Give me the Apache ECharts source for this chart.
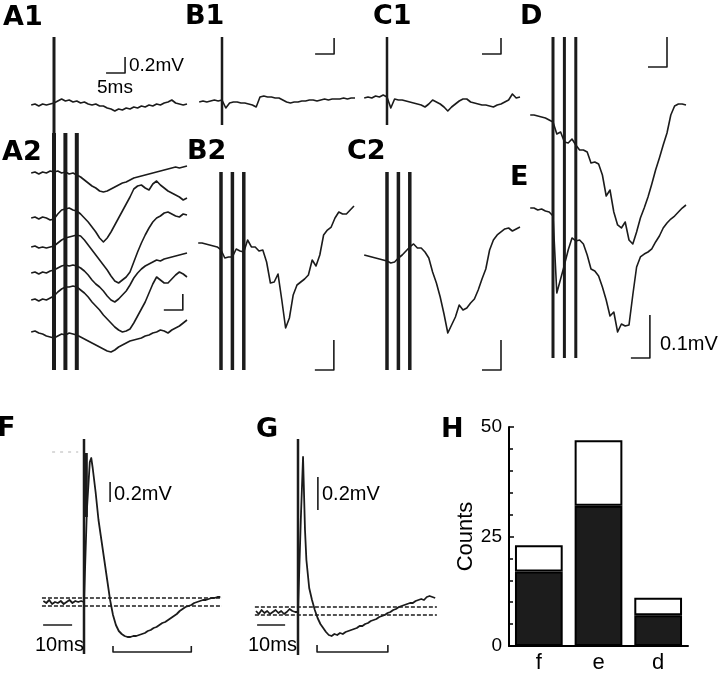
<!DOCTYPE html>
<html><head><meta charset="utf-8">
<script src="https://cdn.jsdelivr.net/npm/echarts@6/dist/echarts.min.js"></script>
<style>html,body{margin:0;padding:0;background:#fff}#c{width:720px;height:676px}</style>
</head><body><div id="c"></div>
<script>
// ---------------- DATA (time in ms, voltage in µV) ----------------
const tTop = [-6,-5,-4,-3,-2,-1,0,1,2,3,4,5,6,7,8,9,10,11,12,13,14,15,16,17,18,19,20,21,22,23,24,25,26,27,28,29,30,31,32,33,34,35];
const stimSingle = [0];
const stimTrain = [0,3,6];
const traceA1 = [-12.5,0,-25,0,-12.5,0,12.5,37.5,62.5,37.5,50,25,37.5,12.5,25,0,-12.5,0,-25,-25,-50,-62.5,-87.5,-62.5,-75,-50,-62.5,-37.5,-50,-25,-37.5,-12.5,-25,0,-12.5,12.5,25,50,12.5,0,-12.5,0];
const traceB1 = [-25,-12.5,-25,-12.5,0,-12.5,0,-100,-37.5,-25,-25,-37.5,-37.5,-50,-62.5,-87.5,37.5,50,37.5,37.5,25,25,0,-25,-37.5,-25,-25,-12.5,-12.5,0,0,-12.5,0,12.5,0,12.5,12.5,12.5,25,12.5,25,25];
const traceC1 = [0,12.5,0,25,12.5,37.5,12.5,-125,-12.5,-25,-25,-37.5,-50,-62.5,-75,-87.5,-112.5,-75,-25,-50,-75,-112.5,-162.5,-112.5,-75,-37.5,-12.5,-12.5,-50,-62.5,-75,-87.5,-87.5,-100,-112.5,-87.5,-75,-50,-25,50,0,12.5];
const traceA2s1 = [0,12.5,-12.5,12.5,0,25,12.5,25,0,12.5,-12.5,0,-25,-50,-87.5,-125,-162.5,-187.5,-225,-237.5,-225,-200,-175,-150,-125,-112.5,-87.5,-62.5,-50,-37.5,-25,-12.5,0,12.5,25,37.5,50,62.5,75,62.5,75,87.5];
const traceA2s2 = [0,12.5,-12.5,12.5,0,-25,-12.5,50,100,112.5,125,100,87.5,50,0,-50,-112.5,-175,-250,-300,-250,-175,-87.5,0,87.5,175,262.5,362.5,400,412.5,375,350,425,462.5,412.5,375,337.5,312.5,287.5,262.5,225,250];
const traceA2s3 = [0,12.5,-12.5,0,-12.5,0,12.5,50,87.5,112.5,125,137.5,150,137.5,87.5,25,-37.5,-100,-162.5,-225,-287.5,-362.5,-425,-450,-412.5,-375,-312.5,-187.5,-62.5,50,150,237.5,312.5,362.5,387.5,425,437.5,412.5,387.5,375,412.5,400];
const traceA2s4 = [0,12.5,-12.5,12.5,0,25,37.5,62.5,87.5,100,87.5,100,87.5,62.5,25,-25,-87.5,-137.5,-175,-225,-287.5,-337.5,-362.5,-325,-275,-225,-150,-62.5,0,50,87.5,112.5,137.5,162.5,150,175,187.5,200,212.5,225,237.5,250];
const traceA2s5 = [0,12.5,-12.5,12.5,0,25,50,100,137.5,162.5,162.5,175,162.5,125,87.5,37.5,-25,-75,-125,-187.5,-237.5,-287.5,-337.5,-375,-400,-387.5,-362.5,-287.5,-200,-112.5,-25,87.5,200,287.5,250,212.5,212.5,262.5,312.5,350,325,287.5];
const traceA2s6 = [0,12.5,-12.5,-25,-50,-62.5,-75,-50,-25,-37.5,-12.5,-25,-37.5,-62.5,-87.5,-112.5,-137.5,-162.5,-187.5,-212.5,-237.5,-250,-225,-187.5,-162.5,-137.5,-112.5,-100,-87.5,-75,-50,-37.5,-12.5,0,25,12.5,-12.5,25,50,75,112.5,150];
const traceB2 = [0,0,-3.3,-6.7,-10,-13.3,-23.3,-50,-46.7,-46.7,-20,-26.7,-30,10,-13.3,-13.3,-26.7,-23.3,-63.3,-133.3,-130,-103.3,-190,-283.3,-250,-173.3,-140,-130,-120,-106.7,-56.7,-76.7,-40,26.7,43.3,53.3,83.3,103.3,96.7,96.7,110,123.3];
const traceC2 = [0,-3.3,-6.7,-10,-13.3,-16.7,-20,-26.7,-23.3,-10,0,13.3,26.7,36.7,23.3,23.3,10,-10,-56.7,-93.3,-140,-196.7,-260,-233.3,-206.7,-166.7,-183.3,-176.7,-160,-146.7,-116.7,-80,-46.7,16.7,50,66.7,76.7,86.7,90,80,86.7,93.3];
const traceD = [3.3,3.3,0,-3.3,-6.7,-13.3,-20,-60,-53.3,-86.7,-90,-76.7,-96.7,-113.3,-113.3,-120,-156.7,-153.3,-160,-196.7,-266.7,-246.7,-320,-363.3,-373.3,-353.3,-413.3,-426.7,-386.7,-340,-306.7,-270,-226.7,-180,-140,-96.7,-56.7,3.3,33.3,40,40,36.7];
const traceE = [2.3,2.3,-2.3,0,-4.7,-7,-16.3,-195.3,-162.8,-130.2,-95.3,-67.4,-74.4,-72.1,-81.4,-107,-139.5,-144.2,-155.8,-181.4,-211.6,-248.8,-239.5,-286,-267.4,-272.1,-269.8,-200,-134.9,-111.6,-104.7,-100,-93,-76.7,-62.8,-44.2,-32.6,-23.3,-16.3,-7,2.3,9.3];
const timeF = [-14,-13,-12,-11,-10,-9,-8,-7,-6,-5,-4,-3,-2,-1,0,1,2,2.5,3,4,5,6,7,8,9,10,11,12,13,14,15,16,17,18,19,20,21,22,23,24,25,26,27,28,29,30,31,32,33,34,35,36,37,38,39,40,41,42,43,44,45,46,47];
const traceF = [10,-10,20,-20,0,-10,10,-20,0,20,-10,10,0,10,0,920,1400,1440,1340,1100,820,620,420,220,20,-130,-230,-290,-320,-340,-350,-350,-340,-340,-330,-320,-310,-290,-280,-260,-250,-230,-210,-200,-180,-160,-140,-120,-90,-70,-50,-40,-30,-10,0,10,20,20,30,40,40,50,50];
const timeG = [-15,-14,-13,-12,-11,-10,-9,-8,-7,-6,-5,-4,-3,-2,-1,0,1,1.8,2.5,3,4,5,6,7,8,9,10,11,12,13,14,15,16,17,18,19,20,21,22,23,24,25,26,27,28,29,30,31,32,33,34,35,36,37,38,39,40,41,42,43,44,45,46,47,48,49];
const traceG = [6,-12,12,-6,6,-12,0,12,-6,6,-12,0,18,6,0,0,552,930,492,312,144,72,12,-36,-72,-96,-120,-138,-144,-132,-138,-126,-132,-120,-114,-108,-102,-96,-84,-84,-72,-66,-54,-48,-42,-30,-24,-18,-6,0,12,18,30,36,42,48,54,54,66,72,78,72,90,96,90,84];
const bandF = [40,-40];      // baseline ± band (µV)
const bandG = [30,-18];
const windowF = [10,37];     // analysis window (ms)
const windowG = [6.8,32.1];
const hCategories = ['f','e','d'];
const hFilled = [17,32,7];
const hOpen = [6,15,4];

// ---------------- LAYOUT (pixels) ----------------
const INK = '#1b1b1b';
const P = {
  A1:{rect:[25,30,175,115], x0:54,  y0:104, sx:3.8, sy:0.08},
  B1:{rect:[190,30,175,100], x0:222, y0:100, sx:3.8, sy:0.08},
  C1:{rect:[355,30,175,100], x0:387, y0:98,  sx:3.8, sy:0.08},
  D: {rect:[525,30,180,340], x0:553, y0:116, sx:3.8, sy:0.3},
  A2:{rect:[25,125,175,250], x0:54,  y0:173, sx:3.8, sy:0.08},
  B2:{rect:[190,165,175,210], x0:221, y0:243, sx:3.8, sy:0.3},
  C2:{rect:[355,165,175,210], x0:387, y0:255, sx:3.8, sy:0.3},
  E: {rect:[525,160,180,210], x0:553, y0:209, sx:3.8, sy:0.43},
  F: {rect:[30,430,200,235], x0:84,  y0:602, sx:2.9, sy:0.1},
  G: {rect:[245,430,200,235], x0:298, y0:612, sx:2.8, sy:1/6}
};
const a2Baselines = [173,218,247,273,300,332];

const grids=[], xAxes=[], yAxes=[], series=[];
function addPanel(p){
  const [l,t,w,h]=p.rect; const gi=grids.length;
  grids.push({left:l, top:t, width:w, height:h, containLabel:false, outerBoundsMode:'none'});
  xAxes.push({gridIndex:gi, type:'value', show:false, min:(l-p.x0)/p.sx, max:(l+w-p.x0)/p.sx});
  yAxes.push({gridIndex:gi, type:'value', show:false, min:(p.y0-(t+h))/p.sy, max:(p.y0-t)/p.sy});
  p.gi = gi; return gi;
}
function line(gi, pts, width, opts){
  opts = opts||{};
  series.push({type:'line', xAxisIndex:gi, yAxisIndex:gi, data:pts, showSymbol:false, symbol:'none',
    silent:true, animation:false, clip:false, z: opts.z||2,
    lineStyle:{color:opts.color||INK, width:width, type:opts.type||'solid', cap:'butt', join:'round'}});
}
function zip(ts, vs, off){ off=off||0; return ts.map((t,i)=>[t, vs[i]+off]); }
function artifacts(gi, times, top, bot, w){ times.forEach(t=>line(gi, [[t,top],[t,bot]], w)); }
function lbar(gi, tc, vc, wMs, hUv){ line(gi, [[tc-wMs,vc],[tc,vc],[tc,vc+hUv]], 1.6); }

Object.keys(P).forEach(k=>addPanel(P[k]));

// Row 1
line(P.A1.gi, zip(tTop, traceA1), 1.6);  artifacts(P.A1.gi, stimSingle, 837.5, -450, 3);  lbar(P.A1.gi, 18.7, 387.5, 5, 200);
line(P.B1.gi, zip(tTop, traceB1), 1.6);  artifacts(P.B1.gi, stimSingle, 787.5, -312.5, 2.5); lbar(P.B1.gi, 29.5, 575, 5, 200);
line(P.C1.gi, zip(tTop, traceC1), 1.6);  artifacts(P.C1.gi, stimSingle, 762.5, -337.5, 2.5); lbar(P.C1.gi, 30, 550, 5, 200);
// D / E
line(P.D.gi, zip(tTop, traceD), 1.6);  artifacts(P.D.gi, stimTrain, 263.3, -806.7, 3); lbar(P.D.gi, 30, 163.3, 5, 100);
line(P.E.gi, zip(tTop, traceE), 1.6);  lbar(P.E.gi, 25.5, -346.6, 5, 100);
// A2 stack
[traceA2s1,traceA2s2,traceA2s3,traceA2s4,traceA2s5,traceA2s6].forEach((tr,i)=>{
  const off = (P.A2.y0 - a2Baselines[i]) / P.A2.sy;
  line(P.A2.gi, zip(tTop, tr, off), 1.6);
});
artifacts(P.A2.gi, stimTrain, 500, -2462.5, 4); lbar(P.A2.gi, 33.9, -1712.5, 5, 200);
// B2 / C2
line(P.B2.gi, zip(tTop, traceB2), 1.6); artifacts(P.B2.gi, stimTrain, 236.7, -423.3, 3.5); lbar(P.B2.gi, 29.7, -423.3, 5, 100);
line(P.C2.gi, zip(tTop, traceC2), 1.6); artifacts(P.C2.gi, stimTrain, 276.7, -383.3, 3.5); lbar(P.C2.gi, 30, -383.3, 5, 100);
// F
line(P.F.gi, zip(timeF, traceF), 1.8);
artifacts(P.F.gi, stimSingle, 1630, -520, 2.5);
line(P.F.gi, [[0.8,1490],[0.8,850]], 3);
bandF.forEach(v=>line(P.F.gi, [[-14.5,v],[47.6,v]], 1.5, {type:[4,2]}));
line(P.F.gi, [[-11,1500],[-2,1500]], 1, {type:[3,5], color:'#b5b5b5'});
line(P.F.gi, [[9,1000],[9,1200]], 1.6);
line(P.F.gi, [[-14.1,-230],[-4.1,-230]], 1.6);
line(P.F.gi, [[windowF[0],-440],[windowF[0],-500],[windowF[1],-500],[windowF[1],-440]], 1.6);
// G
line(P.G.gi, zip(timeG, traceG), 1.8);
artifacts(P.G.gi, stimSingle, 1038, -258, 2.5);
bandG.forEach(v=>line(P.G.gi, [[-15.4,v],[49.6,v]], 1.5, {type:[4,2]}));
line(P.G.gi, [[7.1,612],[7.1,810]], 1.6);
line(P.G.gi, [[-14.6,-78],[-4.6,-78]], 1.6);
line(P.G.gi, [[windowG[0],-198],[windowG[0],-240],[windowG[1],-240],[windowG[1],-198]], 1.6);

// H bar chart
const hi = grids.length;
grids.push({left:509, top:427, width:179, height:219, containLabel:false, outerBoundsMode:'none'});
xAxes.push({gridIndex:hi, type:'category', data:hCategories,
  axisLine:{show:true, lineStyle:{color:'#000', width:2}}, axisTick:{show:false},
  axisLabel:{color:'#000', fontSize:22, fontFamily:'Liberation Sans', margin:6}});
yAxes.push({gridIndex:hi, type:'value', min:0, max:50, interval:25,
  axisLine:{show:true, lineStyle:{color:'#000', width:2}},
  axisTick:{show:true, inside:true, length:5, lineStyle:{color:'#000', width:1.5}},
  minorTick:{show:true, splitNumber:5, length:4, lineStyle:{color:'#000', width:1.5}},
  splitLine:{show:false}, minorSplitLine:{show:false},
  axisLabel:{color:'#000', fontSize:19, fontFamily:'Liberation Sans', margin:7},
  name:'Counts', nameLocation:'middle', nameRotate:90, nameGap:30,
  nameTextStyle:{color:'#000', fontSize:22, fontFamily:'Liberation Sans'}});
series.push({type:'bar', xAxisIndex:hi, yAxisIndex:hi, stack:'n', data:hFilled, barCategoryGap:'20%',
  itemStyle:{color:'#1c1c1c', borderColor:'#000', borderWidth:2}, animation:false, silent:true});
series.push({type:'bar', xAxisIndex:hi, yAxisIndex:hi, stack:'n', data:hOpen, barCategoryGap:'20%',
  itemStyle:{color:'#fff', borderColor:'#000', borderWidth:2}, animation:false, silent:true});

// ---------------- TEXT ----------------
function txt(text, x, y, font, align){
  return {type:'text', x:x, y:y, silent:true, z:100,
    style:{text:text, font:font, fill:'#000', align:align||'left', verticalAlign:'middle',
      textAlign:align||'left', textVerticalAlign:'middle'}};
}
const BOLD = 'bold 27px "DejaVu Sans"';
const SANS19 = '19px "Liberation Sans"';
const SANS20 = '20px "Liberation Sans"';
const graphics = [
  txt('A1', 3, 18, BOLD), txt('B1', 185, 17, BOLD), txt('C1', 373, 17, BOLD), txt('D', 520, 17, BOLD),
  txt('A2', 2, 153, BOLD), txt('B2', 187, 152, BOLD), txt('C2', 347, 152, BOLD), txt('E', 510, 178, BOLD),
  txt('F', -3, 429, BOLD), txt('G', 256, 430, BOLD), txt('H', 441, 430, BOLD),
  txt('0.2mV', 129, 66, SANS19), txt('5ms', 97, 88, SANS19),
  txt('0.1mV', 660, 344, SANS20),
  txt('0.2mV', 114, 494, SANS20), txt('10ms', 35, 645, SANS20),
  txt('0.2mV', 322, 494, SANS20), txt('10ms', 248, 645, SANS20)
];

const chart = echarts.init(document.getElementById('c'), null, {renderer:'canvas'});
chart.setOption({
  backgroundColor:'#fff', animation:false,
  grid:grids, xAxis:xAxes, yAxis:yAxes, series:series, graphic:graphics,
  tooltip:{show:false}, legend:{show:false}
});
</script></body></html>
